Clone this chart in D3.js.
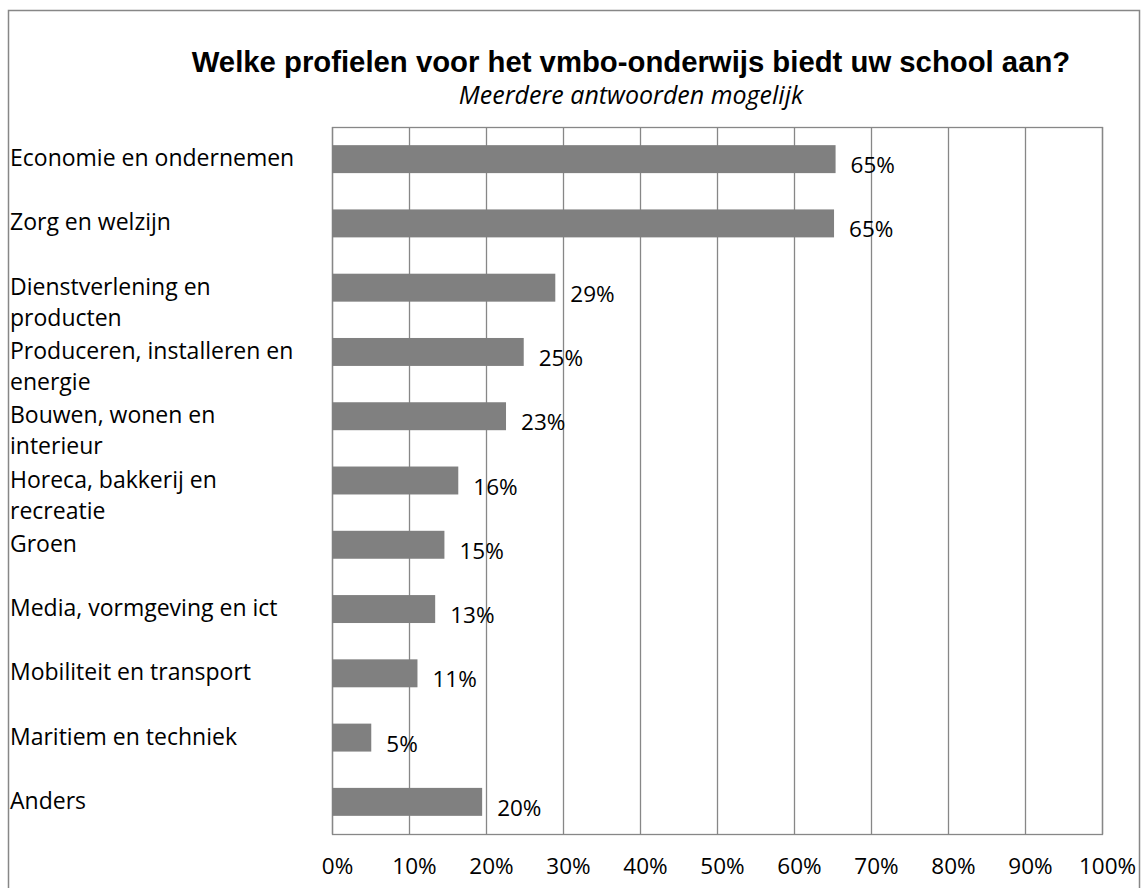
<!DOCTYPE html>
<html>
<head>
<meta charset="utf-8">
<script src="https://cdn.jsdelivr.net/npm/d3@7"></script>
<style>
  body { margin: 0; background: #fff; }
  svg { display: block; }
</style>
</head>
<body>
<div id="chart"></div>
<script>
// data
const categories = [
  'Economie en ondernemen',
  'Zorg en welzijn',
  'Dienstverlening en producten',
  'Produceren, installeren en energie',
  'Bouwen, wonen en interieur',
  'Horeca, bakkerij en recreatie',
  'Groen',
  'Media, vormgeving en ict',
  'Mobiliteit en transport',
  'Maritiem en techniek',
  'Anders'
];
const percentages = [65.4, 65.2, 29.0, 24.9, 22.6, 16.4, 14.6, 13.4, 11.1, 5.1, 19.5];
const xTicks = [0, 10, 20, 30, 40, 50, 60, 70, 80, 90, 100];

const title = 'Welke profielen voor het vmbo-onderwijs biedt uw school aan?';
const subtitle = 'Meerdere antwoorden mogelijk';

const width = 1146, height = 888;
const plot = { left: 332, top: 127, right: 1102, bottom: 834 };
const labelFont = '"Open Sans", Lato, sans-serif';
const gray = '#878787';

const data = categories.map((c, i) => ({ name: c, value: percentages[i] }));

const svg = d3.select('#chart')
  .append('svg')
  .attr('width', width)
  .attr('height', height);

// outer chart frame
svg.append('rect')
  .attr('x', 8.5)
  .attr('y', 10.5)
  .attr('width', 1131)
  .attr('height', 900)
  .attr('fill', 'none')
  .attr('stroke', gray)
  .attr('stroke-width', 1.5);

let x = d3.scaleLinear()
  .domain([0, 100])
  .range([plot.left, plot.right]);

let y = d3.scaleBand()
  .domain(categories)
  .range([plot.top, plot.bottom])
  .paddingInner(0.565)
  .paddingOuter(0.2825);

// vertical gridlines
svg.append('g')
  .selectAll('line')
  .data(xTicks)
  .enter()
  .append('line')
    .attr('x1', d => Math.round(x(d)) + 0.5)
    .attr('x2', d => Math.round(x(d)) + 0.5)
    .attr('y1', plot.top)
    .attr('y2', plot.bottom)
    .attr('stroke', gray)
    .attr('stroke-width', 1.3);

// plot area border
svg.append('rect')
  .attr('x', plot.left + 0.5)
  .attr('y', plot.top + 0.5)
  .attr('width', plot.right - plot.left)
  .attr('height', plot.bottom - plot.top)
  .attr('fill', 'none')
  .attr('stroke', gray)
  .attr('stroke-width', 1.3);

// x axis tick labels
let xAxis = d3.axisBottom(x)
  .tickValues(xTicks)
  .tickSize(0)
  .tickPadding(0)
  .tickFormat(d => d + '%');

svg.append('g')
  .attr('transform', `translate(5, ${plot.bottom})`)
  .call(xAxis)
  .call(g => g.select('.domain').remove())
  .selectAll('text')
    .attr('dy', null)
    .attr('y', 40)
    .style('font-family', labelFont)
    .style('font-size', '22.5px')
    .attr('fill', '#000');

// bars
svg.append('g')
  .selectAll('rect')
  .data(data)
  .enter()
  .append('rect')
    .attr('x', x(0))
    .attr('y', d => y(d.name))
    .attr('width', d => x(d.value) - x(0))
    .attr('height', y.bandwidth())
    .attr('fill', '#808080');

// value labels
svg.append('g')
  .selectAll('text')
  .data(data)
  .enter()
  .append('text')
    .attr('x', d => x(d.value) + 15)
    .attr('y', d => y(d.name) + y.bandwidth() / 2 + 14)
    .style('font-family', labelFont)
    .style('font-size', '22.5px')
    .text(d => Math.round(d.value) + '%');

// category labels, wrapped like the original
function wrap(text, maxWidth) {
  text.each(function () {
    let t = d3.select(this);
    let words = t.text().split(' ');
    let xPos = t.attr('x');
    t.text(null);
    let line = [];
    let tspan = t.append('tspan').attr('x', xPos).attr('dy', 0);
    words.forEach(w => {
      line.push(w);
      tspan.text(line.join(' '));
      if (tspan.node().getComputedTextLength() > maxWidth && line.length > 1) {
        line.pop();
        tspan.text(line.join(' '));
        line = [w];
        tspan = t.append('tspan').attr('x', xPos).attr('dy', 31).text(w);
      }
    });
  });
}

svg.append('g')
  .selectAll('text')
  .data(data)
  .enter()
  .append('text')
    .attr('x', 10)
    .attr('y', d => y(d.name) + y.bandwidth() / 2 + 7)
    .style('font-family', labelFont)
    .style('font-size', '23px')
    .text(d => d.name)
    .call(wrap, 297);

// titles
let titleX = 631;
svg.append('text')
  .attr('x', titleX)
  .attr('y', 72)
  .style('text-anchor', 'middle')
  .style('font-family', '"Liberation Sans", Arial, sans-serif')
  .style('font-weight', 'bold')
  .style('font-size', '29.3px')
  .text(title);

svg.append('text')
  .attr('x', titleX)
  .attr('y', 104)
  .style('text-anchor', 'middle')
  .style('font-family', labelFont)
  .style('font-style', 'italic')
  .style('font-size', '25px')
  .text(subtitle);
</script>
</body>
</html>
